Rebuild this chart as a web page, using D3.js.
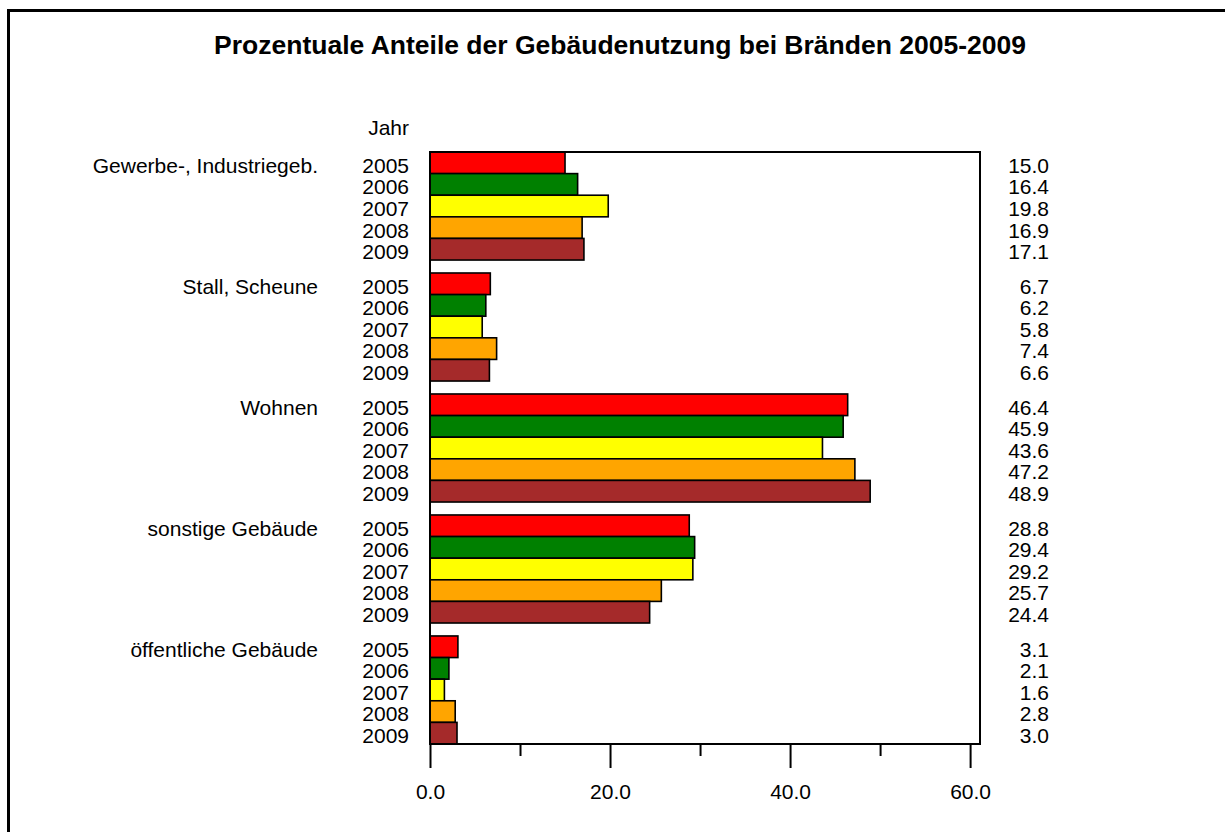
<!DOCTYPE html>
<html>
<head>
<meta charset="utf-8">
<script src="https://cdn.jsdelivr.net/npm/d3@7"></script>
<style>
  body { margin: 0; background: #fff; }
  text { font-family: "Liberation Sans", Arial, sans-serif; fill: #000; }
</style>
</head>
<body>
<div id="chart"></div>
<script>
// data
var categories = ["Gewerbe-, Industriegeb.", "Stall, Scheune", "Wohnen", "sonstige Gebäude", "öffentliche Gebäude"];
var years = ["2005", "2006", "2007", "2008", "2009"];
var s2005 = [15.0, 6.7, 46.4, 28.8, 3.1];
var s2006 = [16.4, 6.2, 45.9, 29.4, 2.1];
var s2007 = [19.8, 5.8, 43.6, 29.2, 1.6];
var s2008 = [16.9, 7.4, 47.2, 25.7, 2.8];
var s2009 = [17.1, 6.6, 48.9, 24.4, 3.0];
var majorTicks = [0, 20, 40, 60];
var minorTicks = [10, 30, 50];

var series = [s2005, s2006, s2007, s2008, s2009];
var colors = ["#ff0000", "#008000", "#ffff00", "#ffa500", "#a52a2a"];

var W = 1225, H = 832;
var plotL = 430, plotR = 980, plotT = 152, plotB = 744;
var fs = 21;

var svg = d3.select("#chart").append("svg")
            .attr("width", W)
            .attr("height", H);

// outer border (only top + left show)
svg.append("rect")
   .attr("x", 8.5).attr("y", 10.5)
   .attr("width", 1400).attr("height", 1000)
   .attr("fill", "none")
   .attr("stroke", "black")
   .attr("stroke-width", 3);

svg.append("text")
   .attr("x", 620).attr("y", 54)
   .attr("text-anchor", "middle")
   .attr("font-size", "26.5px")
   .attr("font-weight", "bold")
   .text("Prozentuale Anteile der Gebäudenutzung bei Bränden 2005-2009");

var x = d3.scaleLinear().domain([0, 61.1]).range([plotL, plotR]);
var yCat = d3.scaleBand().domain(categories).range([plotT, plotB]).paddingInner(0.107);
var yYear = d3.scaleBand().domain(years).range([0, yCat.bandwidth()]);

// flatten into rows
var rows = [];
categories.forEach(function(c, ci) {
  years.forEach(function(yr, yi) {
    rows.push({cat: c, ci: ci, year: yr, yi: yi, value: series[yi][ci]});
  });
});

function rowY(d) { return yCat(d.cat) + yYear(d.year); }

var g = svg.append("g");

g.selectAll("rect.bar")
 .data(rows)
 .enter()
 .append("rect")
 .attr("class", "bar")
 .attr("x", x(0))
 .attr("y", rowY)
 .attr("width", function(d) { return x(d.value) - x(0); })
 .attr("height", yYear.bandwidth())
 .attr("fill", function(d) { return colors[d.yi]; })
 .attr("stroke", "black")
 .attr("stroke-width", 1.6);

// year labels
g.selectAll("text.year")
 .data(rows)
 .enter()
 .append("text")
 .attr("class", "year")
 .attr("x", 409)
 .attr("y", function(d) { return rowY(d) + yYear.bandwidth() / 2; })
 .attr("dy", "0.47em")
 .attr("text-anchor", "end")
 .attr("font-size", fs + "px")
 .text(function(d) { return d.year; });

// value labels
g.selectAll("text.val")
 .data(rows)
 .enter()
 .append("text")
 .attr("class", "val")
 .attr("x", 1049)
 .attr("y", function(d) { return rowY(d) + yYear.bandwidth() / 2; })
 .attr("dy", "0.47em")
 .attr("text-anchor", "end")
 .attr("font-size", fs + "px")
 .text(function(d) { return d3.format(".1f")(d.value); });

// category labels
g.selectAll("text.cat")
 .data(categories)
 .enter()
 .append("text")
 .attr("class", "cat")
 .attr("x", 318)
 .attr("y", function(d) { return yCat(d) + yYear.bandwidth() / 2; })
 .attr("dy", "0.47em")
 .attr("text-anchor", "end")
 .attr("font-size", fs + "px")
 .text(function(d) { return d; });

svg.append("text")
   .attr("x", 409).attr("y", 135)
   .attr("text-anchor", "end")
   .attr("font-size", fs + "px")
   .text("Jahr");

// frame
svg.append("rect")
   .attr("x", plotL).attr("y", plotT)
   .attr("width", plotR - plotL).attr("height", plotB - plotT)
   .attr("fill", "none")
   .attr("stroke", "black")
   .attr("stroke-width", 2);

// axis
var axis = svg.append("g")
  .attr("transform", "translate(0," + plotB + ")")
  .call(d3.axisBottom(x).tickValues(majorTicks).tickSize(24).tickPadding(16)
          .tickFormat(d3.format(".1f")));
axis.select(".domain").remove();
axis.selectAll(".tick line").attr("stroke-width", 2);
axis.selectAll(".tick text")
    .attr("font-size", fs + "px")
    .attr("font-family", "Liberation Sans, Arial, sans-serif")
    .attr("fill", "black");

var minor = svg.append("g")
  .attr("transform", "translate(0," + plotB + ")")
  .call(d3.axisBottom(x).tickValues(minorTicks).tickSize(12).tickFormat(""));
minor.select(".domain").remove();
minor.selectAll(".tick line").attr("stroke-width", 2);
</script>
</body>
</html>
